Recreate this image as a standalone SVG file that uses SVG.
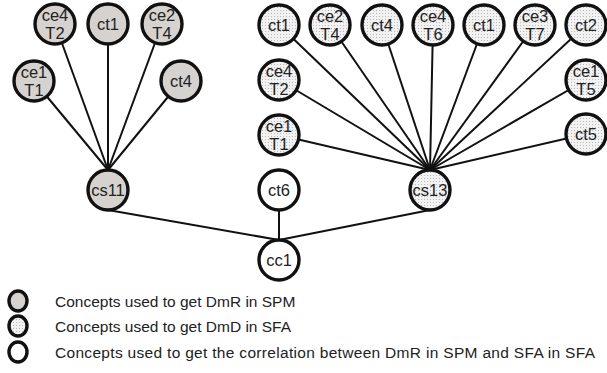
<svg xmlns="http://www.w3.org/2000/svg" width="607" height="373" viewBox="0 0 607 373">
  <style>
    .node { stroke: #111; stroke-width: 3.4; }
    .grey { fill: #d6d2cf; }
    .dot { fill: url(#dots); }
    .white { fill: #fff; }
    .edge { stroke: #111; stroke-width: 2; fill: none; }
    .lbl { font-family: "Liberation Sans", Arial, sans-serif; font-size: 16.5px; fill: #222; text-anchor: middle; }
    .leg { font-family: "Liberation Sans", Arial, sans-serif; font-size: 15.5px; fill: #222; }
  </style>
  <defs>
    <pattern id="dots" width="3" height="3" patternUnits="userSpaceOnUse">
      <rect width="3" height="3" fill="#f2f2f2"/>
      <rect x="1" y="1" width="1" height="1" fill="#b8b8b8"/>
    </pattern>
  </defs>

  <g id="connectors">
    <!-- SPM branch into cs11 -->
    <line class="edge" x1="55" y1="24" x2="108" y2="170"/>
    <line class="edge" x1="108" y1="24" x2="108" y2="170"/>
    <line class="edge" x1="162" y1="24" x2="108" y2="170"/>
    <line class="edge" x1="34" y1="81" x2="108" y2="170"/>
    <line class="edge" x1="181" y1="81" x2="108" y2="170"/>
    <!-- SFA branch into cs13 -->
    <line class="edge" x1="279" y1="25" x2="430" y2="170"/>
    <line class="edge" x1="330" y1="25" x2="430" y2="170"/>
    <line class="edge" x1="382" y1="25" x2="430" y2="170"/>
    <line class="edge" x1="433" y1="25" x2="430" y2="170"/>
    <line class="edge" x1="484" y1="25" x2="430" y2="170"/>
    <line class="edge" x1="535" y1="25" x2="430" y2="170"/>
    <line class="edge" x1="586" y1="25" x2="430" y2="170"/>
    <line class="edge" x1="279" y1="80" x2="430" y2="170"/>
    <line class="edge" x1="586" y1="80" x2="430" y2="170"/>
    <line class="edge" x1="279" y1="135" x2="430" y2="170"/>
    <line class="edge" x1="586" y1="134" x2="430" y2="170"/>
    <!-- root links -->
    <line class="edge" x1="108" y1="210" x2="279" y2="240"/>
    <line class="edge" x1="279" y1="210" x2="279" y2="240"/>
    <line class="edge" x1="430" y1="210" x2="279" y2="240"/>
  </g>

  <!-- SPM concepts -->
  <g id="l-ce4-t2"><circle class="node grey" cx="55" cy="24" r="20"/><text class="lbl" x="55" y="21">ce4</text><text class="lbl" x="55" y="39">T2</text></g>
  <g id="l-ct1"><circle class="node grey" cx="108" cy="24" r="20"/><text class="lbl" x="108" y="30">ct1</text></g>
  <g id="l-ce2-t4"><circle class="node grey" cx="162" cy="24" r="20"/><text class="lbl" x="162" y="21">ce2</text><text class="lbl" x="162" y="39">T4</text></g>
  <g id="l-ce1-t1"><circle class="node grey" cx="34" cy="81" r="20"/><text class="lbl" x="34" y="78">ce1</text><text class="lbl" x="34" y="96">T1</text></g>
  <g id="l-ct4"><circle class="node grey" cx="181" cy="81" r="20"/><text class="lbl" x="181" y="87">ct4</text></g>
  <g id="cs11"><circle class="node grey" cx="108" cy="190" r="20"/><text class="lbl" x="108" y="196">cs11</text></g>

  <!-- SFA concepts -->
  <g id="r-ct1a"><circle class="node dot" cx="279" cy="25" r="20"/><text class="lbl" x="279" y="31">ct1</text></g>
  <g id="r-ce2-t4"><circle class="node dot" cx="330" cy="25" r="20"/><text class="lbl" x="330" y="22">ce2</text><text class="lbl" x="330" y="40">T4</text></g>
  <g id="r-ct4"><circle class="node dot" cx="382" cy="25" r="20"/><text class="lbl" x="382" y="31">ct4</text></g>
  <g id="r-ce4-t6"><circle class="node dot" cx="433" cy="25" r="20"/><text class="lbl" x="433" y="22">ce4</text><text class="lbl" x="433" y="40">T6</text></g>
  <g id="r-ct1b"><circle class="node dot" cx="484" cy="25" r="20"/><text class="lbl" x="484" y="31">ct1</text></g>
  <g id="r-ce3-t7"><circle class="node dot" cx="535" cy="25" r="20"/><text class="lbl" x="535" y="22">ce3</text><text class="lbl" x="535" y="40">T7</text></g>
  <g id="r-ct2"><circle class="node dot" cx="586" cy="25" r="20"/><text class="lbl" x="586" y="31">ct2</text></g>
  <g id="r-ce4-t2"><circle class="node dot" cx="279" cy="80" r="20"/><text class="lbl" x="279" y="77">ce4</text><text class="lbl" x="279" y="95">T2</text></g>
  <g id="r-ce1-t5"><circle class="node dot" cx="586" cy="80" r="20"/><text class="lbl" x="586" y="77">ce1</text><text class="lbl" x="586" y="95">T5</text></g>
  <g id="r-ce1-t1"><circle class="node dot" cx="279" cy="135" r="20"/><text class="lbl" x="279" y="132">ce1</text><text class="lbl" x="279" y="150">T1</text></g>
  <g id="r-ct5"><circle class="node dot" cx="586" cy="134" r="20"/><text class="lbl" x="586" y="140">ct5</text></g>
  <g id="cs13"><circle class="node dot" cx="430" cy="190" r="20"/><text class="lbl" x="430" y="196">cs13</text></g>

  <!-- correlation concepts -->
  <g id="ct6"><circle class="node white" cx="279" cy="190" r="20"/><text class="lbl" x="279" y="196">ct6</text></g>
  <g id="cc1"><circle class="node white" cx="279" cy="260" r="20"/><text class="lbl" x="279" y="266">cc1</text></g>

  <!-- legend -->
  <g id="legend">
    <ellipse class="node grey" cx="18" cy="301" rx="9" ry="10" stroke-width="2.4"/>
    <text class="leg" x="55" y="307">Concepts used to get DmR in SPM</text>
    <ellipse class="node dot" cx="18" cy="326" rx="9" ry="10" stroke-width="2.4"/>
    <text class="leg" x="55" y="332">Concepts used to get DmD in SFA</text>
    <ellipse class="node white" cx="18" cy="352" rx="9" ry="10" stroke-width="2.4"/>
    <text class="leg" x="55" y="358" textLength="540" lengthAdjust="spacing">Concepts used to get the correlation between DmR in SPM and SFA in SFA</text>
  </g>
</svg>
